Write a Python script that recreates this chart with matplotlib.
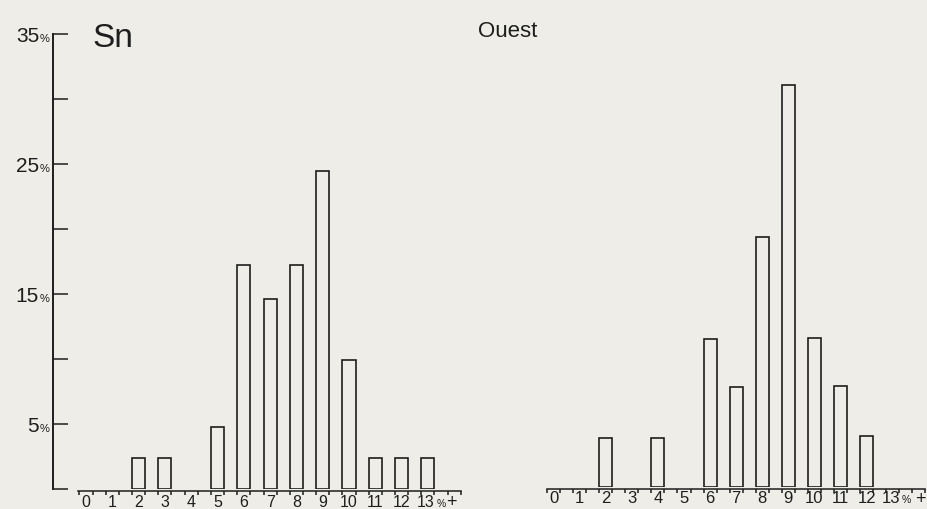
import matplotlib.pyplot as plt
from matplotlib.ticker import FixedLocator, NullFormatter

plt.rcParams['font.family'] = ['Liberation Sans', 'DejaVu Sans']

# percentages by class
sn_bins = [2, 3, 5, 6, 7, 8, 9, 10, 11, 12, 13]
sn_pct = [2.4, 2.4, 4.8, 17.2, 14.6, 17.2, 24.5, 9.9, 2.4, 2.4, 2.4]

ouest_bins = [2, 4, 6, 7, 8, 9, 10, 11, 12]
ouest_pct = [3.8, 3.8, 11.4, 7.7, 19.2, 30.9, 11.5, 7.8, 3.9]

x_labels = [str(i) for i in range(14)]
y_ticks = [0, 5, 10, 15, 20, 25, 30, 35]
y_labelled = [5, 15, 25, 35]

paper = '#eeede8'
ink = '#1e1e1e'

W, H = 927, 510
fig = plt.figure(figsize=(W / 100, H / 100), dpi=100, facecolor=paper)


def px_axes(left, right, base, top):
    return fig.add_axes([left / W, 1 - base / H, (right - left) / W, (base - top) / H])


def histo(ax, bins, pct, plus_x, lab_gap, line_from, lab_size):
    ax.set_facecolor('none')
    ax.bar(bins, pct, width=0.5, fill=False, edgecolor=ink, linewidth=1.2)
    ax.set_ylim(0, 36)
    for s in ['top', 'right', 'left']:
        ax.spines[s].set_visible(False)
    ax.spines['bottom'].set_bounds(line_from, 14.25)
    ax.spines['bottom'].set_position(('outward', 1.5))
    ax.spines['bottom'].set_color(ink)
    ax.spines['bottom'].set_linewidth(1.1)
    edges = [-0.25 + 0.5 * i for i in range(30)]
    ax.xaxis.set_minor_locator(FixedLocator(edges))
    ax.xaxis.set_minor_formatter(NullFormatter())
    ax.set_xticks(range(14))
    ax.set_xticklabels([])
    ax.tick_params(axis='x', which='minor', direction='out', length=3.2, width=1.1, color=ink)
    ax.tick_params(axis='x', which='major', length=0)
    for i, t in enumerate(x_labels):
        dx = -1.5 if i == 13 else 0
        ax.annotate(t, xy=(i, 0), xycoords=('data', 'axes fraction'),
                    xytext=(dx, -lab_gap), textcoords='offset points',
                    ha='center', va='top', fontsize=lab_size, color=ink)
    ax.annotate('%', xy=(13, 0), xycoords=('data', 'axes fraction'),
                xytext=(6.0, -lab_gap - 8.5), textcoords='offset points',
                ha='left', va='baseline', fontsize=7.5, color=ink)
    ax.annotate('+', xy=(plus_x, 0), xycoords=('data', 'axes fraction'),
                xytext=(0, -lab_gap + 0.5), textcoords='offset points',
                ha='center', va='top', fontsize=13, color=ink)


# left panel (Sn), with the y axis
ax1 = px_axes(53, 470, 490, 22)
ax1.set_xlim(-1.255, (470 - 86) / 26.3)
histo(ax1, sn_bins, sn_pct, 13.9, 3.5, -0.3, 11.5)
ax1.spines['left'].set_visible(True)
ax1.spines['left'].set_bounds(0, 35)
ax1.spines['left'].set_color(ink)
ax1.spines['left'].set_linewidth(1.4)
ax1.set_yticks(y_ticks)
ax1.set_yticklabels([])
ax1.tick_params(axis='y', direction='in', length=10.5, width=1.1, color=ink)
for v in y_labelled:
    ax1.annotate(str(v), xy=(0, v), xycoords=('axes fraction', 'data'),
                 xytext=(-10, -5), textcoords='offset points',
                 ha='right', va='baseline', fontsize=15, color=ink)
    ax1.annotate('%', xy=(0, v), xycoords=('axes fraction', 'data'),
                 xytext=(-9.5, -5), textcoords='offset points',
                 ha='left', va='baseline', fontsize=8, color=ink)

# right panel (Ouest), no y axis
ax2 = px_axes(546, 927, 488, 20)
ax2.set_xlim((546 - 553.5) / 26.1, (927 - 553.5) / 26.1)
histo(ax2, ouest_bins, ouest_pct, 14.05, 2.5, -0.26, 12)
ax2.set_yticks([])

fig.text(92 / W, 1 - 47 / H, 'Sn', fontsize=24, color=ink, ha='left', va='baseline')
fig.text(478 / W, 1 - 37 / H, 'Ouest', fontsize=16, color=ink, ha='left', va='baseline')

fig.savefig('out.png', dpi=100, facecolor=paper)
